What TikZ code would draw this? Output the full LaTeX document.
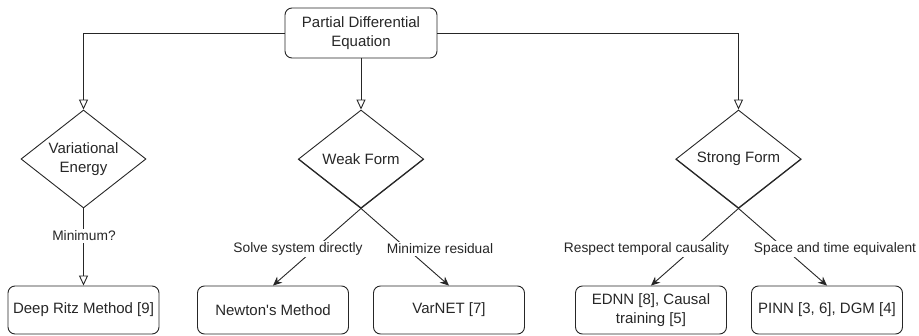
\documentclass[tikz,border=0pt]{standalone}
\usepackage{fontspec}
\setmainfont{Liberation Sans}
\usetikzlibrary{shapes.geometric,arrows.meta}
\begin{document}
\begin{tikzpicture}[x=1pt,y=-1pt,
 every node/.style={font=\fontsize{15}{18.5}\selectfont, text=black!85},
 box/.style={draw, rounded corners=7pt, minimum width=151pt, minimum height=48pt, align=center, inner sep=2pt},
 dia/.style={draw, diamond, aspect=1.28, minimum width=125pt, minimum height=98pt, inner sep=0pt, align=center},
 lbl/.style={fill=white, font=\fontsize{13.75}{16}\selectfont, inner sep=1.5pt},
 openarr/.style={-{Triangle[open,length=10pt,width=9pt]}},
 fillarr/.style={-{Stealth[length=9pt,width=8pt]}},
 line width=0.9pt, draw=black!85]
\useasboundingbox (0,0) rectangle (919,335);

\node[box, minimum width=152pt, minimum height=50pt] (pde) at (361,33) {Partial Differential\\Equation};

\node[dia] (var) at (83.5,159) {Variational\\Energy};
\node[dia] (weak) at (361,159) {Weak Form};
\node[dia] (strong) at (738.5,159) {Strong Form};

\node[box] (ritz) at (83.5,310) {Deep Ritz Method [9]};
\node[box] (newton) at (273,310) {Newton\textquotesingle s Method};
\node[box] (varnet) at (449,310) {VarNET [7]};
\node[box] (ednn) at (651,310) {EDNN [8], Causal\\training [5]};
\node[box] (pinn) at (827,310) {PINN [3, 6], DGM [4]};

\draw[openarr] (pde.west) -| (var.north);
\draw[openarr] (pde.south) -- (weak.north);
\draw[openarr] (pde.east) -| (strong.north);
\draw[openarr] (var.south) -- (ritz.north);
\draw[fillarr] (weak.east) -- (weak.south) -- (newton.north);
\draw[fillarr] (weak.west) -- (weak.south) -- (varnet.north);
\draw[fillarr] (strong.east) -- (strong.south) -- (ednn.north);
\draw[fillarr] (strong.west) -- (strong.south) -- (pinn.north);

\node[lbl] (lmin) at (84,236) {Minimum?};
\node[lbl] (lsolve) at (298,249) {Solve system directly};
\node[lbl] (lres) at (440,249) {Minimize residual};
\node[lbl] (lcaus) at (646.5,249) {Respect temporal causality};
\node[lbl] (lspace) at (835,249) {Space and time equivalent};
\end{tikzpicture}
\end{document}
